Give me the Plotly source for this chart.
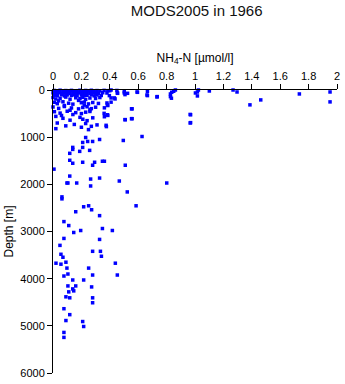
import plotly.graph_objects as go

# Sparse / outlying observations (NH4-N in umol/l, depth in m)
nh4_sparse = [0.453, 0.502, 0.592, 0.662, 0.732, 0.432, 0.383, 0.557, 0.383, 0.557,
              0.509, 0.969, 0.969, 0.376, 0.627, 0.495, 0.328, 0.279, 0.244, 0.230,
              0.209, 0.139, 0.209, 0.139, 0.258, 0.188, 0.118, 0.118, 0.209, 0.139,
              0.293, 0.348, 0.279, 0.362, 0.509, 0.007, 0.118, 0.098, 0.105, 0.167,
              0.265, 0.328, 0.467, 0.801, 0.265, 0.523, 0.063, 0.063, 0.585, 0.216,
              0.251, 0.272, 0.160, 0.328, 0.077, 0.111, 0.146, 0.195, 0.348, 0.418,
              0.077, 0.328, 0.049, 0.056, 0.070, 0.279, 0.334, 0.341, 0.021, 0.056,
              0.091, 0.439, 0.098, 0.251, 0.077, 0.105, 0.279, 0.453, 0.139, 0.216,
              0.105, 0.160, 0.139, 0.272, 0.111, 0.146, 0.091, 0.118, 0.279, 0.279,
              0.077, 0.118, 0.091, 0.209, 0.216, 0.077, 0.077]
depth_sparse = [63, 63, 42, 105, 147, 168, 315, 399, 525, 608,
                629, 525, 692, 776, 986, 1070, 1049, 1091, 1091, 1007,
                1112, 1217, 1217, 1259, 1280, 1301, 1343, 1490, 1532, 1553,
                1532, 1511, 1595, 1511, 1595, 1678, 1825, 1972, 1972, 1972,
                1888, 1867, 1930, 1972, 2035, 2161, 2266, 2308, 2455, 2476,
                2455, 2539, 2581, 2664, 2790, 2874, 3021, 2979, 2937, 2979,
                3147, 3168, 3294, 3483, 3546, 3420, 3420, 3525, 3672, 3693,
                3651, 3672, 3776, 3776, 3944, 3902, 3923, 3923, 4028, 4028,
                4154, 4154, 4217, 4175, 4280, 4259, 4385, 4406, 4406, 4511,
                4637, 4763, 4888, 4909, 5014, 5140, 5245]

# Near-surface observations with high concentration
nh4_surface = [1.003, 1.017, 1.017, 1.024, 1.101, 1.268, 1.296, 1.387, 1.463, 1.735,
               1.951, 1.951, 0.862, 0.850, 0.836, 0.827, 0.827, 0.834, 0.966, 0.966,
               0.386, 0.409, 0.397, 0.409, 0.437, 0.455, 0.502, 0.507, 0.525, 0.595,
               0.665, 0.665, 0.734, 0.409, 0.386, 0.553, 0.386, 0.507, 0.553, 0.374,
               0.362, 0.362]
depth_surface = [63, 42, 126, 0, 21, 0, 42, 315, 210, 84,
                 42, 252, 0, 27, 48, 84, 140, 174, 518, 699,
                 14, 0, 119, 168, 189, 70, 35, 98, 70, 49,
                 28, 119, 140, 258, 329, 399, 539, 629, 608, 749,
                 378, 567]

# Dense cluster in the upper water column
nh4_dense = [0.01, 0.03, 0.05, 0.07, 0.09, 0.11, 0.13, 0.15, 0.17, 0.19,
             0.21, 0.23, 0.25, 0.27, 0.29, 0.31, 0.33, 0.36, 0.40, 0.45,
             0.00, 0.02, 0.04, 0.06, 0.08, 0.10, 0.12, 0.14, 0.16, 0.18,
             0.20, 0.22, 0.24, 0.26, 0.28, 0.30, 0.32, 0.35, 0.38,
             0.01, 0.03, 0.06, 0.08, 0.10, 0.13, 0.15, 0.17, 0.20, 0.22,
             0.24, 0.27, 0.29, 0.31, 0.34,
             0.00, 0.02, 0.05, 0.09, 0.12, 0.16, 0.19, 0.21, 0.23, 0.26,
             0.30, 0.33,
             0.01, 0.03, 0.07, 0.11, 0.14, 0.20, 0.22, 0.25, 0.28, 0.32, 0.38,
             0.00, 0.04, 0.08, 0.13, 0.18, 0.21, 0.24, 0.27, 0.30,
             0.01, 0.05, 0.10, 0.16, 0.20, 0.23, 0.26, 0.36,
             0.02, 0.07, 0.12, 0.19, 0.21, 0.24, 0.28,
             0.03, 0.09, 0.15, 0.20, 0.23, 0.27, 0.31,
             0.04, 0.08, 0.12, 0.18, 0.22, 0.26, 0.14, 0.06, 0.25, 0.02]
depth_dense = [10, 25, 5, 20, 12, 30, 8, 22, 15, 5,
               28, 10, 18, 6, 25, 12, 20, 8, 15, 10,
               60, 70, 55, 75, 65, 50, 72, 58, 68, 62,
               55, 75, 60, 70, 52, 66, 74, 58, 64,
               110, 120, 100, 125, 105, 115, 102, 122, 108, 118,
               112, 100, 124, 106, 116,
               160, 190, 175, 150, 195, 165, 185, 155, 200, 170,
               180, 160,
               260, 290, 250, 280, 300, 270, 255, 295, 265, 285, 275,
               360, 390, 350, 380, 400, 370, 355, 395, 365,
               460, 490, 450, 480, 500, 470, 455, 495,
               560, 600, 640, 580, 620, 650, 590,
               700, 760, 730, 790, 710, 770, 740,
               230, 330, 430, 220, 320, 420, 520, 540, 840, 820]

nh4 = nh4_sparse + nh4_surface + nh4_dense
depth = depth_sparse + depth_surface + depth_dense

x_ticks = [0, 0.2, 0.4, 0.6, 0.8, 1, 1.2, 1.4, 1.6, 1.8, 2]
y_ticks = [0, 1000, 2000, 3000, 4000, 5000, 6000]

fig = go.Figure(go.Scatter(
    x=nh4, y=depth, mode="markers",
    marker=dict(symbol="square", size=3.5, color="#0000ff", line=dict(width=0)),
    cliponaxis=False,
))

font = dict(family="Liberation Sans, Arial, sans-serif", color="black")
fig.update_layout(
    width=345, height=384,
    margin=dict(l=53, r=5, t=90, b=8),
    paper_bgcolor="white", plot_bgcolor="white",
    showlegend=False,
    font=dict(size=11, **font),
    title=dict(text="MODS2005 in 1966", x=0.57, xanchor="center", y=0.985, yanchor="top",
               font=dict(size=15, weight="normal", family="Liberation Sans, Arial, sans-serif",
                         color="#111111")),
)
fig.update_xaxes(
    side="top", range=[0, 2], tickvals=x_ticks, ticktext=[str(v) for v in x_ticks],
    showline=True, linecolor="black", linewidth=1, mirror=False,
    ticks="outside", ticklen=5, tickcolor="black",
    showgrid=False, zeroline=False,
    title=dict(text="NH<sub>4</sub>-N [µmol/l]", standoff=4, font=dict(size=12, **font)),
    tickfont=dict(size=11, **font),
)
fig.update_yaxes(
    range=[6000, 0], tickvals=y_ticks,
    showline=True, linecolor="black", linewidth=1,
    ticks="outside", ticklen=5, tickcolor="black",
    showgrid=False, zeroline=False,
    title=dict(text="Depth [m]", standoff=4, font=dict(size=12, **font)),
    tickfont=dict(size=11, **font),
)

fig.write_html("out.html")
